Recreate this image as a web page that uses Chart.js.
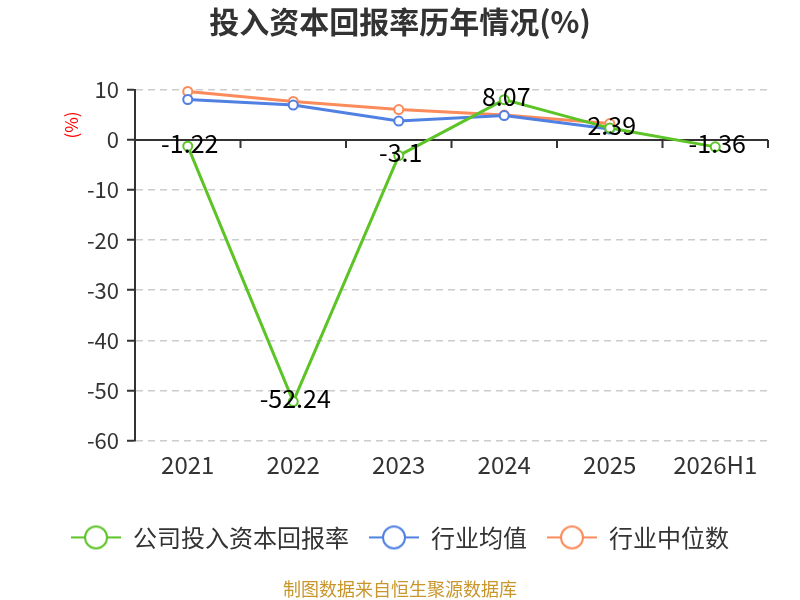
<!DOCTYPE html>
<html>
<head>
<meta charset="utf-8">
<script src="https://cdn.jsdelivr.net/npm/chart.js@4"></script>
<style>
  html, body { margin: 0; padding: 0; background: #fff; }
  #wrap { width: 800px; height: 600px; }
</style>
</head>
<body>
<div id="wrap"><canvas id="roicChart" width="800" height="600"></canvas></div>
<script>
const years = ['2021', '2022', '2023', '2024', '2025', '2026H1'];
const companyRoic = [-1.22, -52.24, -3.1, 8.07, 2.39, -1.36];
const industryAvg = [8.1, 7.0, 3.8, 4.9, 2.2, null];
const industryMedian = [9.7, 7.7, 6.1, 5.0, 3.3, null];
const yTicks = [10, 0, -10, -20, -30, -40, -50, -60];

const FONT = '"Noto Sans CJK SC", "Noto Sans", sans-serif';
const GREEN = '#5cc427';
const BLUE = '#4f80e2';
const ORANGE = '#fc8b5b';

// legend symbol: short line with a hollow circle on it
function legendIcon(color) {
    const c = document.createElement('canvas');
    c.width = 50; c.height = 26;
    const g = c.getContext('2d');
    g.strokeStyle = color;
    g.lineWidth = 2;
    g.beginPath(); g.moveTo(0, 13); g.lineTo(50, 13); g.stroke();
    g.fillStyle = '#fff';
    g.beginPath(); g.arc(25, 13, 11, 0, Math.PI * 2); g.fill(); g.stroke();
    return c;
}

// zero line with small ticks between categories, plus the red unit label
const zeroLine = {
    id: 'zeroLine',
    beforeDatasetsDraw(chart) {
        const { ctx, chartArea, scales } = chart;
        const y0 = scales.y.getPixelForValue(0);
        const step = (chartArea.right - chartArea.left) / years.length;
        ctx.save();
        ctx.strokeStyle = '#333';
        ctx.lineWidth = 2;
        ctx.beginPath();
        ctx.moveTo(chartArea.left, y0);
        ctx.lineTo(chartArea.right, y0);
        for (let i = 1; i <= years.length; i++) {
            const x = chartArea.left + i * step;
            ctx.moveTo(x, y0);
            ctx.lineTo(x, y0 + 8);
        }
        ctx.stroke();

        ctx.translate(72, chartArea.top + 35);
        ctx.rotate(-Math.PI / 2);
        ctx.font = '17px ' + FONT;
        ctx.fillStyle = '#ff0000';
        ctx.textAlign = 'center';
        ctx.textBaseline = 'middle';
        ctx.fillText('(%)', 0, 0);
        ctx.restore();
    }
};

// value labels for the company series
const valueLabels = {
    id: 'valueLabels',
    afterDatasetsDraw(chart) {
        const { ctx } = chart;
        const meta = chart.getDatasetMeta(0);
        ctx.save();
        ctx.font = '25px ' + FONT;
        ctx.fillStyle = '#000';
        ctx.textAlign = 'center';
        ctx.textBaseline = 'middle';
        meta.data.forEach((pt, i) => {
            ctx.fillText(String(companyRoic[i]), pt.x + 2, pt.y - 3);
        });
        ctx.restore();
    }
};

const lineStyle = (color) => ({
    borderColor: color,
    backgroundColor: '#fff',
    borderWidth: 3,
    pointRadius: 4.5,
    pointBorderWidth: 2,
    pointBackgroundColor: '#fff',
    pointBorderColor: color,
    pointStyle: 'circle',
    tension: 0,
    clip: false
});

new Chart(document.getElementById('roicChart'), {
    type: 'line',
    data: {
        labels: years,
        datasets: [
            Object.assign({ label: '公司投入资本回报率', data: companyRoic }, lineStyle(GREEN)),
            Object.assign({ label: '行业均值', data: industryAvg }, lineStyle(BLUE)),
            Object.assign({ label: '行业中位数', data: industryMedian }, lineStyle(ORANGE))
        ]
    },
    options: {
        responsive: false,
        animation: false,
        layout: { padding: { left: 32, right: 32, top: 0, bottom: 0 } },
        plugins: {
            title: {
                display: true,
                text: '投入资本回报率历年情况(%)',
                color: '#333',
                font: { family: FONT, size: 30, weight: 'bold' },
                padding: { top: 4, bottom: 50 }
            },
            subtitle: {
                display: true,
                position: 'bottom',
                text: '制图数据来自恒生聚源数据库',
                color: '#c9962b',
                font: { family: FONT, size: 18 },
                padding: { top: 19, bottom: 0 }
            },
            legend: {
                position: 'bottom',
                labels: {
                    usePointStyle: true,
                    pointStyleWidth: 50,
                    color: '#333',
                    font: { family: FONT, size: 24 },
                    padding: 20,
                    generateLabels(chart) {
                        return chart.data.datasets.map((ds, i) => ({
                            text: ds.label,
                            fillStyle: '#fff',
                            strokeStyle: ds.borderColor,
                            fontColor: '#333',
                            lineWidth: 2,
                            pointStyle: legendIcon(ds.borderColor),
                            datasetIndex: i,
                            hidden: false
                        }));
                    }
                }
            },
            tooltip: { enabled: false }
        },
        scales: {
            x: {
                offset: true,
                grid: { display: false, drawTicks: false },
                border: { display: false },
                afterFit(scale) { scale.height = 65; },
                ticks: { color: '#333', font: { family: FONT, size: 24 }, padding: 10 }
            },
            y: {
                min: -60,
                max: 10,
                afterBuildTicks(scale) {
                    scale.ticks = yTicks.map(v => ({ value: v }));
                },
                afterFit(scale) { scale.width = 103; },
                border: { display: true, color: '#333', width: 2, dash: [7, 5] },
                grid: {
                    color: '#cccccc',
                    lineWidth: 1.5,
                    tickColor: '#333',
                    tickLength: 8,
                    tickWidth: 2,
                    tickBorderDash: []
                },
                ticks: { color: '#333', font: { family: FONT, size: 22 }, padding: 8 }
            }
        }
    },
    plugins: [zeroLine, valueLabels]
});
</script>
</body>
</html>
